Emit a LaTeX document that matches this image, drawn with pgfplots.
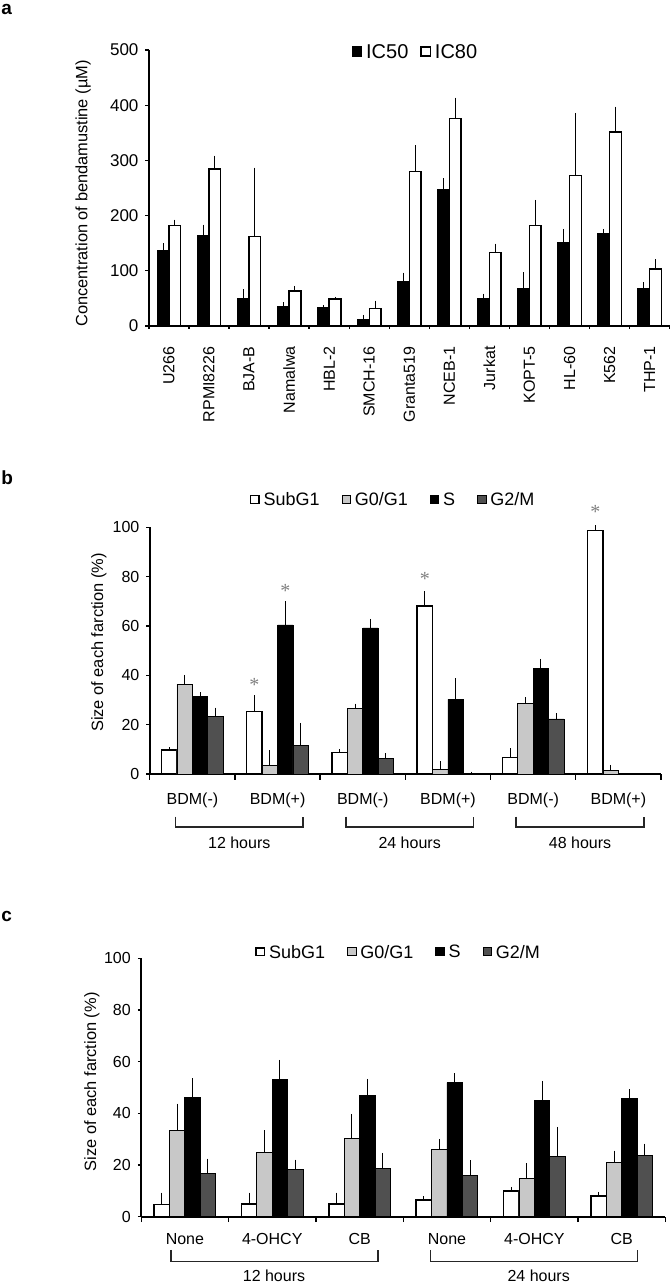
\documentclass[border=0pt]{standalone}
\usepackage{fontspec}
\setmainfont{Liberation Sans}
\newfontfamily\seriffont{Liberation Serif}
\usepackage{pgfplots}
\usepackage{pgfplotstable}
\pgfplotsset{compat=1.18}
\definecolor{lgray}{RGB}{200,200,200}
\definecolor{dgray}{RGB}{80,80,80}
\newcommand{\fs}[1]{\fontsize{#1}{#1}\selectfont}

\pgfplotstableread{
x a ae b be
0 135.9 10.9 182.4 7.2
1 163.7 16.9 284.4 21.2
2 49.5 13.9 162.4 121.4
3 36.2 3.7 63.4 6.0
4 33.8 1.2 48.9 0.6
5 12.1 4.8 31.4 11.5
6 81.5 12.1 279.6 44.7
7 247.6 16.9 376.2 34.4
8 50.1 5.5 133.5 12.6
9 67.6 26.6 181.8 43.4
10 151.0 21.7 272.3 110.6
11 166.7 6.0 351.4 42.9
12 68.2 7.9 103.3 14.5
}\dataA

\pgfplotstableread{
x s1 e1 s2 e2 s3 e3 s4 e4
0 9.7 0.4 36.4 3.1 31.5 0.9 23.2 3.0
1 25.3 5.8 3.4 5.4 60.4 8.8 11.4 8.6
2 8.8 0.5 26.5 1.3 59.2 3.0 6.2 1.5
3 68.1 5.3 1.8 2.7 30.3 7.7 0.2 0
4 6.8 2.9 28.6 1.7 42.7 3.2 22.3 1.6
5 98.6 1.5 1.6 1.4 nan nan nan nan
}\dataB

\pgfplotstableread{
x s1 e1 s2 e2 s3 e3 s4 e4
0 4.8 3.8 33.5 9.6 46.1 6.7 16.8 5.0
1 4.9 3.7 24.8 8.0 53.2 6.8 18.2 3.2
2 4.9 3.7 30.2 8.9 47.0 5.6 18.7 5.3
3 6.5 0.7 26.1 3.3 51.9 2.9 16.0 5.2
4 9.9 0.9 14.7 5.3 45.0 6.9 23.2 10.9
5 8.0 0.9 20.9 4.0 45.7 2.9 23.6 4.0
}\dataC

\pgfplotsset{
  panel/.style={
    scale only axis, axis lines=left, axis line style={-, line width=0.8pt},
    tick align=outside, ymin=0, clip=false,
    major tick length=1.7pt,
    major x tick style={draw=none},
    minor x tick style={line width=0.7pt, black},
    ytick style={line width=0.7pt, black},
    /pgf/number format/assume math mode=true,
    every axis y label/.style={rotate=90, anchor=center},
    ybar=0pt,
    legend style={draw=none, fill=none, legend columns=-1, inner sep=0pt, outer sep=0pt},
  },
  errs/.style={
    error bars/y dir=plus, error bars/y explicit,
    error bars/error bar style={line width=0.5pt, black},
    error bars/error mark options={mark size=0.9pt, line width=0.5pt, black},
  },
}

\begin{document}
\begin{tikzpicture}
\path[use as bounding box] (0pt,0pt) rectangle (335.5pt,641pt);

\node[anchor=base west, font=\bfseries\fs{9.5}, inner sep=0pt] at (0.5pt,633.5pt) {a};
\node[anchor=base west, font=\bfseries\fs{9.5}, inner sep=0pt] at (0.5pt,398.5pt) {b};
\node[anchor=base west, font=\bfseries\fs{9.5}, inner sep=0pt] at (0.5pt,180pt) {c};

% ---------------- panel a
\begin{axis}[panel, at={(74.45pt,478pt)}, anchor=south west,
  width=260.4pt, height=138pt,
  xmin=-0.5, xmax=12.5, ymax=500, ytick={0,100,200,300,400,500},
  bar width=5.85pt,
  xtick={0,1,2,3,4,5,6,7,8,9,10,11,12},
  xticklabels={U266,RPMI8226,BJA-B,Namalwa,HBL-2,SMCH-16,Granta519,NCEB-1,Jurkat,KOPT-5,HL-60,K562,THP-1},
  minor xtick={-0.5,0.5,1.5,2.5,3.5,4.5,5.5,6.5,7.5,8.5,9.5,10.5,11.5,12.5},
  minor tick length=1.5pt,
  xticklabel style={rotate=90, anchor=east, font=\fs{8}}, xticklabel shift=5pt,
  yticklabel style={font=\fs{8.5}},
  ylabel={Concentration of bendamustine (\textmu M)},
  ylabel style={font=\fs{8.2}, at={(axis description cs:-0.1265,0.48)}},
  legend style={at={(0.514,0.989)}, anchor=center, font=\fs{10},
    /tikz/every even column/.append style={column sep=4pt}},
  legend image code/.code={\draw[#1] (0pt,-1.5pt) rectangle (4.6pt,3.1pt);},
]
\addplot[fill=black, draw=black, line width=0.5pt, errs] table[x=x, y=a, y error=ae] {\dataA};
\addplot[fill=white, draw=black, line width=0.7pt, errs] table[x=x, y=b, y error=be] {\dataA};
\legend{IC50,IC80}
\end{axis}

% ---------------- panel b
\begin{axis}[panel, at={(74.9pt,254pt)}, anchor=south west,
  width=255.6pt, height=123.35pt,
  xmin=-0.5, xmax=5.5, ymax=100, ytick={0,20,40,60,80,100},
  bar width=7.7pt,
  xtick={0,1,2,3,4,5},
  xticklabels={BDM(-),BDM(+),BDM(-),BDM(+),BDM(-),BDM(+)},
  minor xtick={-0.5,0.5,1.5,2.5,3.5,4.5,5.5},
  minor tick length=2.8pt,
  xticklabel style={font=\fs{8}}, xticklabel shift=4pt,
  yticklabel style={font=\fs{8}},
  ylabel={Size of each farction (\%)},
  ylabel style={font=\fs{8.2}, at={(axis description cs:-0.0998,0.533)}},
  legend style={at={(0.478,1.107)}, anchor=center, font=\fs{9},
    /tikz/every even column/.append style={column sep=9pt}},
  legend image code/.code={\draw[#1] (0pt,-1.3pt) rectangle (4.2pt,2.6pt);},
]
\addplot[fill=white, draw=black, line width=0.7pt, errs] table[x=x, y=s1, y error=e1] {\dataB};
\addplot[fill=lgray, draw=black, line width=0.4pt, errs] table[x=x, y=s2, y error=e2] {\dataB};
\addplot[fill=black, draw=black, line width=0.4pt, errs] table[x=x, y=s3, y error=e3] {\dataB};
\addplot[fill=dgray, draw=black, line width=0.4pt, errs] table[x=x, y=s4, y error=e4] {\dataB};
\legend{SubG1,G0/G1,S,G2/M}
\node[font=\seriffont\fs{10}, text=gray, inner sep=0pt] at (axis cs:1,37) [xshift=-11.55pt, yshift=-1.2pt] {*};
\node[font=\seriffont\fs{10}, text=gray, inner sep=0pt] at (axis cs:1,75.3) [xshift=3.85pt, yshift=-1.2pt] {*};
\node[font=\seriffont\fs{10}, text=gray, inner sep=0pt] at (axis cs:3,80) [xshift=-11.55pt, yshift=-1.2pt] {*};
\node[font=\seriffont\fs{10}, text=gray, inner sep=0pt] at (axis cs:5,107) [xshift=-11.55pt, yshift=-1.2pt] {*};
\draw[line width=0.8pt, black!85] (axis cs:-0.2,-17.3) -- (axis cs:-0.2,-21.6) -- (axis cs:1.3,-21.6) -- (axis cs:1.3,-17.3);
\draw[line width=0.8pt, black!85] (axis cs:1.8,-17.3) -- (axis cs:1.8,-21.6) -- (axis cs:3.3,-21.6) -- (axis cs:3.3,-17.3);
\draw[line width=0.8pt, black!85] (axis cs:3.8,-17.3) -- (axis cs:3.8,-21.6) -- (axis cs:5.3,-21.6) -- (axis cs:5.3,-17.3);
\node[font=\fs{8}] at (axis cs:0.55,-28) {12 hours};
\node[font=\fs{8}] at (axis cs:2.55,-28) {24 hours};
\node[font=\fs{8}] at (axis cs:4.55,-28) {48 hours};
\end{axis}

% ---------------- panel c
\begin{axis}[panel, at={(70.6pt,32.65pt)}, anchor=south west,
  width=262.1pt, height=129.2pt,
  xmin=-0.5, xmax=5.5, ymax=100, ytick={0,20,40,60,80,100},
  bar width=7.7pt,
  xtick={0,1,2,3,4,5},
  xticklabels={None,4-OHCY,CB,None,4-OHCY,CB},
  minor xtick={-0.5,0.5,1.5,2.5,3.5,4.5,5.5},
  minor tick length=2.7pt,
  xticklabel style={font=\fs{8}}, xticklabel shift=3pt,
  yticklabel style={font=\fs{8}},
  ylabel={Size of each farction (\%)},
  ylabel style={font=\fs{8.2}, at={(axis description cs:-0.0939,0.522)}},
  legend style={at={(0.493,1.0205)}, anchor=center, font=\fs{9},
    /tikz/every even column/.append style={column sep=9pt}},
  legend image code/.code={\draw[#1] (0pt,-1.3pt) rectangle (4.2pt,2.6pt);},
]
\addplot[fill=white, draw=black, line width=0.7pt, errs] table[x=x, y=s1, y error=e1] {\dataC};
\addplot[fill=lgray, draw=black, line width=0.4pt, errs] table[x=x, y=s2, y error=e2] {\dataC};
\addplot[fill=black, draw=black, line width=0.4pt, errs] table[x=x, y=s3, y error=e3] {\dataC};
\addplot[fill=dgray, draw=black, line width=0.4pt, errs] table[x=x, y=s4, y error=e4] {\dataC};
\legend{SubG1,G0/G1,S,G2/M}
\draw[line width=0.8pt, black!85] (axis cs:-0.157,-12.8) -- (axis cs:-0.157,-17.3) -- (axis cs:2.207,-17.3) -- (axis cs:2.207,-12.8);
\draw[line width=0.8pt, black!85] (axis cs:2.81,-12.8) -- (axis cs:2.81,-17.3) -- (axis cs:5.18,-17.3) -- (axis cs:5.18,-12.8);
\node[font=\fs{8}] at (axis cs:1.02,-22.8) {12 hours};
\node[font=\fs{8}] at (axis cs:4.05,-22.8) {24 hours};
\end{axis}
\end{tikzpicture}
\end{document}
